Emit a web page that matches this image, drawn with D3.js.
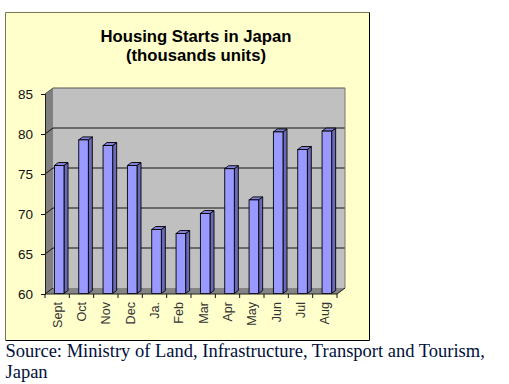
<!DOCTYPE html>
<html><head><meta charset="utf-8">
<script src="https://cdn.jsdelivr.net/npm/d3@7"></script>
<style>html,body{margin:0;padding:0;background:#fff}svg{display:block}</style>
</head><body><svg id="c" width="509" height="384"></svg>
<script>
const months = ["Sept","Oct","Nov","Dec","Ja.","Feb","Mar","Apr","May","Jun","Jul","Aug"];
const starts = [76,79.2,78.5,76,68,67.5,70,75.6,71.7,80.2,78,80.3];
const yTicks = [60,65,70,75,80,85];
const titleLines = ["Housing Starts in Japan","(thousands units)"];
const sourceLines = ["Source: Ministry of Land, Infrastructure, Transport and Tourism,","Japan"];

const svg = d3.select("#c");
const sans = "'Liberation Sans',Arial,sans-serif";
const x = d3.scaleBand().domain(months).range([45,337]);
const y = d3.scaleLinear().domain([60,85]).range([294,94]);
const dx = 8, dy = -6, bw = 9.6, bdx = 4, bdy = -3, bo = 9.4;
const poly = p => p.map(q => q.join(",")).join(" ");

svg.append("rect").attr("x",5.5).attr("y",12.5).attr("width",364).attr("height",327.5)
  .attr("fill","#ffffcc");
svg.append("path").attr("d","M5.5 340V12.5H369.5").attr("fill","none").attr("stroke","#77775a");
svg.append("path").attr("d","M369.5 12.5V340.5H5.5").attr("fill","none").attr("stroke","#000");

svg.selectAll("text.title").data(titleLines).join("text").attr("class","title")
  .attr("x",196).attr("y",(d,i)=>42+i*18.5).attr("text-anchor","middle")
  .attr("font-family",sans).attr("font-weight","bold").attr("font-size",16.7).attr("fill","#000").text(d=>d);

const x0 = x.range()[0], x1 = x.range()[1], yb = y(60), yt = y(85);
svg.append("polygon").attr("points",poly([[x0,yt],[x0+dx,yt+dy],[x0+dx,yb+dy],[x0,yb]])).attr("fill","#808080");
svg.append("polygon").attr("points",poly([[x0+dx,yt+dy],[x1+dx,yt+dy],[x1+dx,yb+dy],[x0+dx,yb+dy]])).attr("fill","#c0c0c0");
svg.append("polygon").attr("points",poly([[x0,yb],[x0+dx,yb+dy],[x1+dx,yb+dy],[x1,yb]])).attr("fill","#858585");

svg.selectAll("path.grid").data(yTicks.slice(1,-1).concat([85])).join("path").attr("class","grid")
  .attr("d",d=>`M${x0},${y(d)}L${x0+dx},${y(d)+dy}H${x1+dx}`)
  .attr("fill","none").attr("stroke",d=>d===85?"#555":"#111").attr("stroke-width",1);
svg.append("path").attr("d",`M${x1+dx},${yt+dy}V${yb+dy}`).attr("stroke","#777").attr("fill","none");
svg.append("path").attr("d",`M${x0},${yb}L${x0+dx},${yb+dy}`).attr("stroke","#111").attr("fill","none");
svg.append("path").attr("d",`M${x1},${yb}L${x1+dx},${yb+dy}`).attr("stroke","#111").attr("fill","none");

const bars = svg.selectAll("g.bar").data(months).join("g").attr("class","bar");
const bl = d => x(d)+bo, bt = (d,i) => y(starts[i])-0.5, bb = yb-0.5;
bars.append("polygon").attr("points",(d,i)=>poly([[bl(d)+bw,bt(d,i)],[bl(d)+bw+bdx,bt(d,i)+bdy],[bl(d)+bw+bdx,bb+bdy],[bl(d)+bw,bb]]))
  .attr("fill","#6a6ab8").attr("stroke","#000").attr("stroke-width",0.9);
bars.append("polygon").attr("points",(d,i)=>poly([[bl(d),bt(d,i)],[bl(d)+bdx,bt(d,i)+bdy],[bl(d)+bw+bdx,bt(d,i)+bdy],[bl(d)+bw,bt(d,i)]]))
  .attr("fill","#8080d8").attr("stroke","#000").attr("stroke-width",0.9);
bars.append("rect").attr("x",d=>bl(d)).attr("y",(d,i)=>bt(d,i)).attr("width",bw).attr("height",(d,i)=>bb-bt(d,i))
  .attr("fill","#9999ff").attr("stroke","#000").attr("stroke-width",0.9);

const yAxis = svg.append("g").attr("transform",`translate(${x0},0)`)
  .call(d3.axisLeft(y).tickValues(yTicks).tickSize(4).tickPadding(8));
yAxis.select(".domain").attr("stroke","#222");
yAxis.selectAll("line").attr("stroke","#111");
yAxis.selectAll("text").attr("font-family",sans).attr("font-size",13.5).attr("fill","#111");

const xAxis = svg.append("g").attr("transform",`translate(0,${yb})`)
  .call(d3.axisBottom(x).tickSize(0).tickFormat(d=>d));
xAxis.select(".domain").attr("d",`M${x0},0H${x1}`).attr("stroke","#222");
xAxis.selectAll(".tick line").remove();
svg.append("g").selectAll("line").data(months.concat(["end"])).join("line")
  .attr("x1",(d,i)=>x0+i*x.step()).attr("x2",(d,i)=>x0+i*x.step()).attr("y1",yb).attr("y2",yb+4).attr("stroke","#111");
xAxis.selectAll(".tick text").attr("font-family",sans).attr("font-size",12.6).attr("fill","#333")
  .attr("text-anchor","end").attr("dy","0.35em").attr("y",0).attr("x",0)
  .attr("transform","translate(0,8) rotate(-90)");

svg.selectAll("text.src").data(sourceLines).join("text").attr("class","src")
  .attr("x",5.5).attr("y",(d,i)=>357+i*21).attr("font-family","'Liberation Serif','Times New Roman',serif")
  .attr("font-size",18.5).attr("fill","#00103a").text(d=>d);
</script></body></html>
